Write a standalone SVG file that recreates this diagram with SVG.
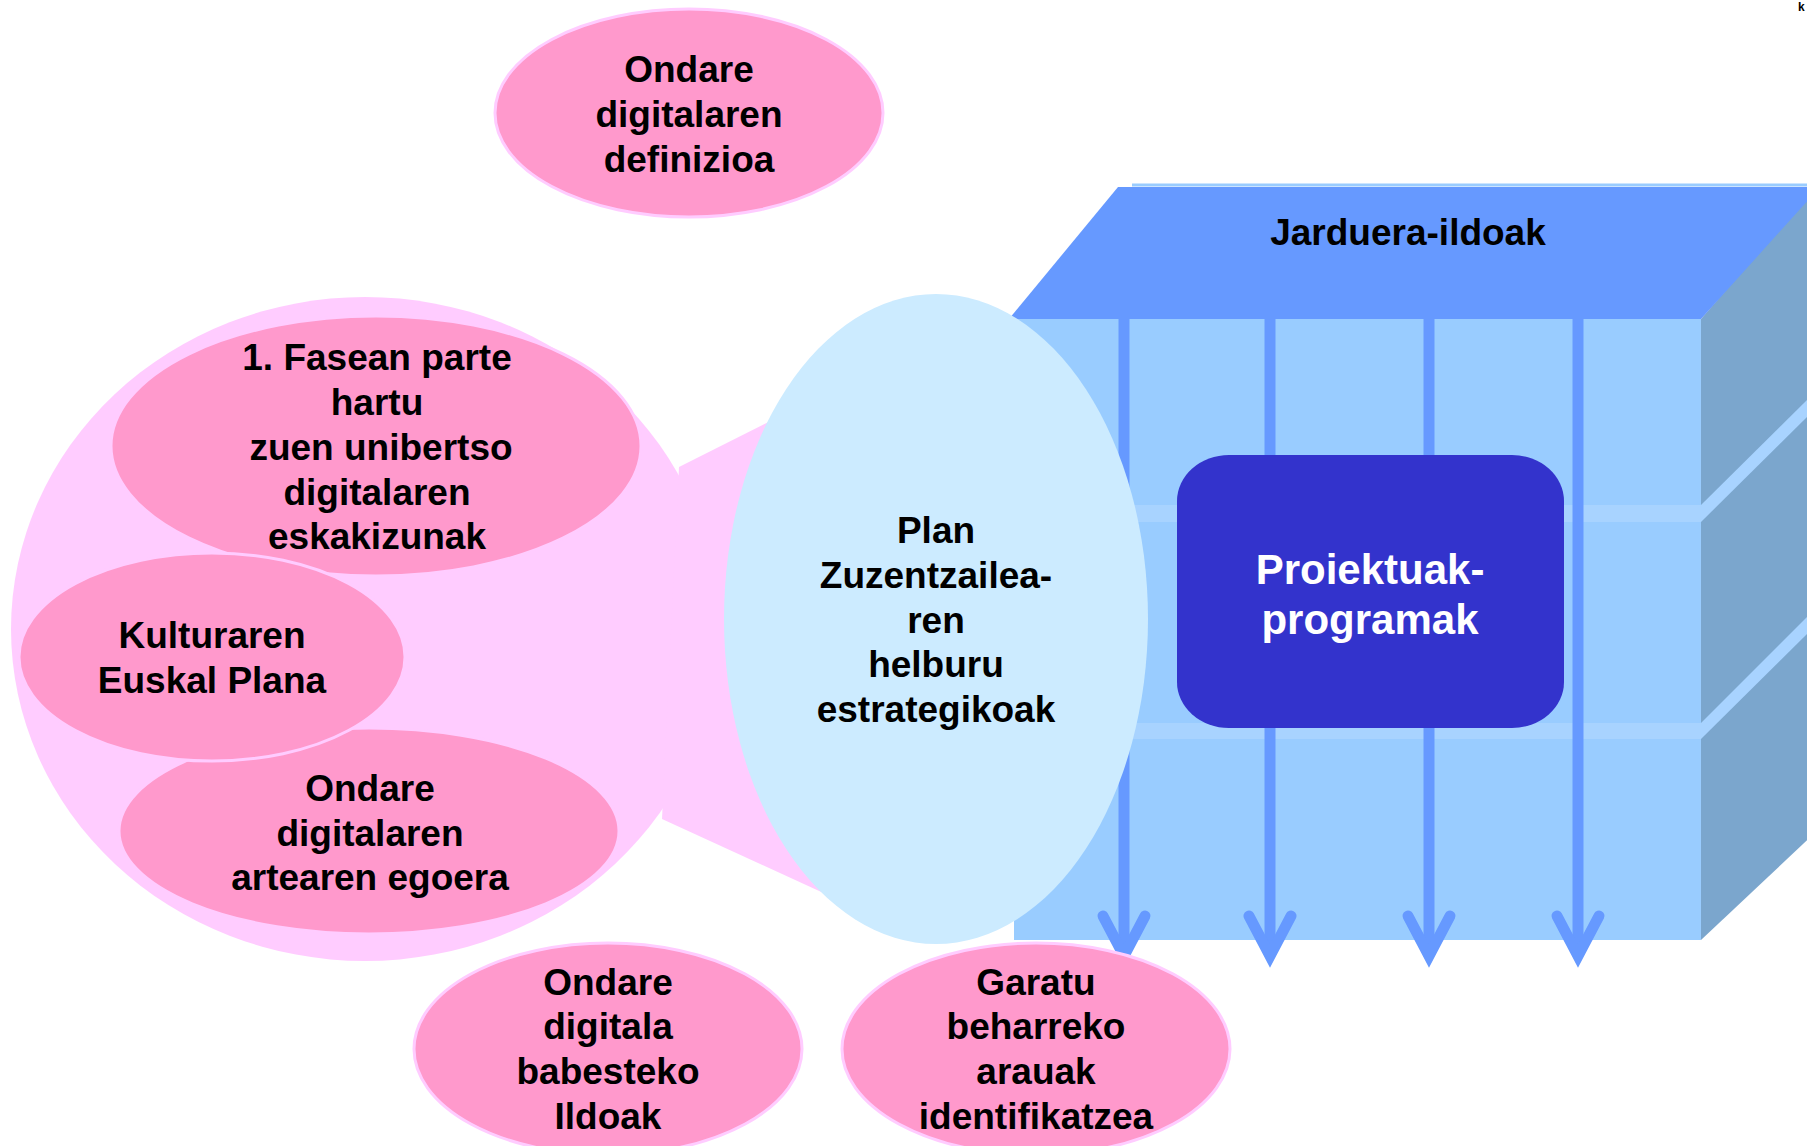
<svg xmlns="http://www.w3.org/2000/svg" width="1807" height="1146" viewBox="0 0 1807 1146">
<style>
.t{font-family:"Liberation Sans",Arial,sans-serif;font-weight:bold;font-size:37px;fill:#000;text-anchor:middle}
.w{font-family:"Liberation Sans",Arial,sans-serif;font-weight:bold;font-size:42px;fill:#fff;text-anchor:middle}
.pk{fill:#FF99CC;stroke:#FFCCFF;stroke-width:3}
.col{stroke:#6699FF;stroke-width:11;fill:none}
.ah{stroke:#6699FF;stroke-width:11;fill:none;stroke-linecap:round;stroke-linejoin:miter}
.stripe{fill:#A8D3FF}
</style>
<rect width="1807" height="1146" fill="#fff"/>
<g id="cube">
  <polygon points="1701,319 1818,184 1818,830 1701,940" fill="#7BA6CD"/>
  <polygon points="1009,319 1118,187 1820,187 1701,319" fill="#6699FF"/>
  <line x1="1132" y1="185" x2="1807" y2="185" stroke="#99CCFF" stroke-width="3"/>
  <rect x="1014" y="319" width="687" height="621" fill="#99CCFF"/>
  <rect class="stripe" x="1014" y="505" width="687" height="17"/>
  <rect class="stripe" x="1014" y="723" width="687" height="16"/>
  <polygon class="stripe" points="1701,505 1812,395 1812,412 1701,522"/>
  <polygon class="stripe" points="1701,723 1812,612 1812,629 1701,739"/>
  <text class="t" x="1408" y="245">Jarduera-ildoak</text>
</g>
<g id="connectors">
  <line class="col" x1="1124" y1="319" x2="1124" y2="952"/>
  <line class="col" x1="1270" y1="319" x2="1270" y2="952"/>
  <line class="col" x1="1429" y1="319" x2="1429" y2="952"/>
  <line class="col" x1="1578" y1="319" x2="1578" y2="952"/>
  <polyline class="ah" points="1103,916 1124,956 1145,916"/>
  <polyline class="ah" points="1249,916 1270,956 1291,916"/>
  <polyline class="ah" points="1408,916 1429,956 1450,916"/>
  <polyline class="ah" points="1557,916 1578,956 1599,916"/>
</g>
<g id="proiektuak">
  <rect x="1177" y="455" width="387" height="273" rx="52" ry="46" fill="#3333CC"/>
  <text class="w" x="1370" y="584">Proiektuak-</text>
  <text class="w" x="1370" y="634">programak</text>
</g>
<g id="context-bubble">
  <ellipse cx="365" cy="629" rx="354" ry="332" fill="#FFCCFF"/>
  <polygon points="679,467 800,406 900,600 830,896 662,819" fill="#FFCCFF"/>
</g>
<g id="helburuak">
  <ellipse cx="936" cy="619" rx="212" ry="325" fill="#CCEBFF"/>
  <text class="t" x="936" y="543">Plan</text>
  <text class="t" x="936" y="588">Zuzentzailea-</text>
  <text class="t" x="936" y="633">ren</text>
  <text class="t" x="936" y="677">helburu</text>
  <text class="t" x="936" y="722">estrategikoak</text>
</g>
<g id="fasean">
  <ellipse class="pk" cx="376" cy="446" rx="265" ry="130"/>
  <text class="t" x="377" y="370">1. Fasean parte</text>
  <text class="t" x="377" y="415">hartu</text>
  <text class="t" x="381" y="460">zuen unibertso</text>
  <text class="t" x="377" y="505">digitalaren</text>
  <text class="t" x="377" y="549">eskakizunak</text>
</g>
<g id="egoera">
  <ellipse class="pk" cx="369" cy="831" rx="250" ry="103"/>
  <text class="t" x="370" y="801">Ondare</text>
  <text class="t" x="370" y="846">digitalaren</text>
  <text class="t" x="370" y="890">artearen egoera</text>
</g>
<g id="kultura">
  <ellipse class="pk" cx="212" cy="657" rx="193" ry="104"/>
  <text class="t" x="212" y="648">Kulturaren</text>
  <text class="t" x="212" y="693">Euskal Plana</text>
</g>
<g id="definizioa">
  <ellipse class="pk" cx="689" cy="113" rx="194" ry="104"/>
  <text class="t" x="689" y="82">Ondare</text>
  <text class="t" x="689" y="127">digitalaren</text>
  <text class="t" x="689" y="172">definizioa</text>
</g>
<g id="babesteko">
  <ellipse class="pk" cx="608" cy="1049" rx="194" ry="106"/>
  <text class="t" x="608" y="995">Ondare</text>
  <text class="t" x="608" y="1039">digitala</text>
  <text class="t" x="608" y="1084">babesteko</text>
  <text class="t" x="608" y="1129">Ildoak</text>
</g>
<g id="garatu">
  <ellipse class="pk" cx="1036" cy="1049" rx="194" ry="106"/>
  <text class="t" x="1036" y="995">Garatu</text>
  <text class="t" x="1036" y="1039">beharreko</text>
  <text class="t" x="1036" y="1084">arauak</text>
  <text class="t" x="1036" y="1129">identifikatzea</text>
</g>
<text x="1798" y="11" style="font-family:'Liberation Sans',Arial,sans-serif;font-weight:bold;font-size:12px">k</text>
</svg>
